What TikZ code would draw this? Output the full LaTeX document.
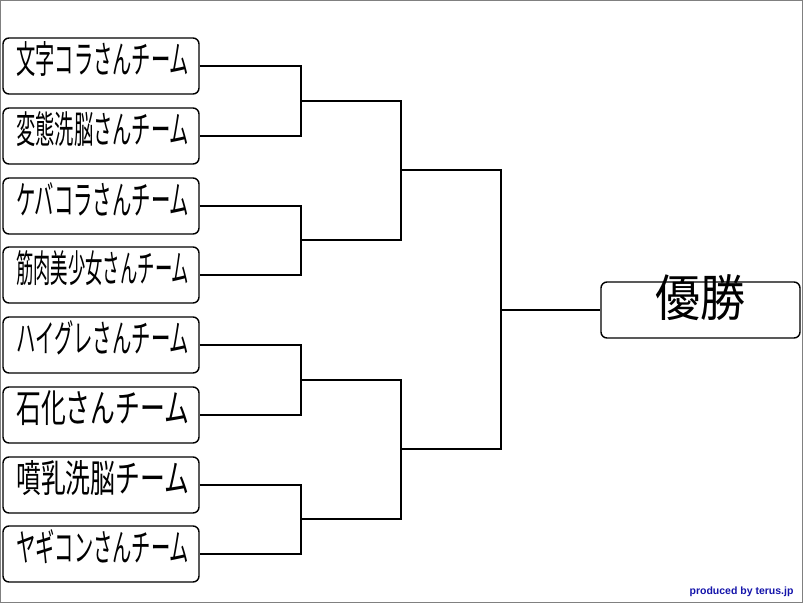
\documentclass[tikz,border=0pt]{standalone}
\usepackage{fontspec}
\newfontfamily\jpfont{Noto Sans CJK JP}
\setmainfont{Liberation Sans}
\usetikzlibrary{positioning}
\definecolor{credit}{RGB}{20,20,170}
\tikzset{
  team/.style={draw, line width=1.4pt, rounded corners=6pt, minimum width=196pt, minimum height=56pt, inner sep=0pt},
  label/.style={anchor=west, inner sep=0pt},
  line/.style={line width=1.4pt, line join=miter}
}
\begin{document}
\begin{tikzpicture}[x=1pt,y=-1pt]
\draw[gray] (0.5,0.5) rectangle (802.5,602.5);
\useasboundingbox (0,0) rectangle (803,603);
% teams
\foreach \y/\t [count=\i] in {66/文字コラさんチーム, 136/変態洗脳さんチーム, 206/ケバコラさんチーム, 275/筋肉美少女さんチーム,
  345/ハイグレさんチーム, 415/石化さんチーム, 485/噴乳洗脳チーム, 554/ヤギコンさんチーム}{
  \node[team] (t\i) at (101,\y) {};
  \node[label] at (16,\y-7) {\resizebox{173pt}{32pt}{\jpfont\t}};
}
\node[team, minimum width=199pt] (win) at (700.5,310) {};
\node[inner sep=0pt] at (700,298) {\resizebox{90pt}{42pt}{\jpfont 優勝}};
% bracket joints
\foreach \n/\x/\y in {a/301/101, b/301/240, c/301/380, d/301/519, e/401/170, f/401/449, g/501/310}
  \coordinate (j\n) at (\x,\y);
% round 1
\foreach \a/\b/\m in {1/2/a, 3/4/b, 5/6/c, 7/8/d}
  \draw[line] (t\a.east) -| (j\m) |- (t\b.east);
% round 2 and 3
\draw[line] (ja) -| (je) |- (jb);
\draw[line] (jc) -| (jf) |- (jd);
\draw[line] (je) -| (jg) |- (jf);
\draw[line] (jg) -- (win.west);
\node[font=\bfseries\fontsize{10.5}{10.5}\selectfont, text=credit, anchor=south east] (credit) at (797,600) {produced by terus.jp};
\end{tikzpicture}
\end{document}
